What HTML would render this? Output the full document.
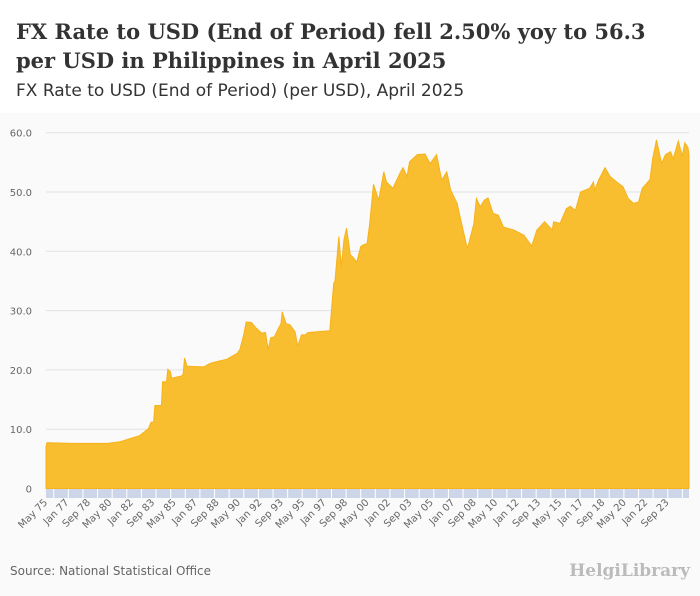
<!DOCTYPE html>
<html><head><meta charset="utf-8"><style>
body{margin:0;width:700px;height:596px;background:#fafafa;font-family:"Liberation Sans",sans-serif;overflow:hidden}
#hdr{position:absolute;left:0;top:0;width:700px;height:113px;background:#fff}
#t{position:absolute;left:16px;top:17px;font:bold 21px/29px "DejaVu Serif",serif;color:#333;white-space:nowrap}
#st{position:absolute;left:16px;top:81px;font:17px "DejaVu Sans",sans-serif;color:#333}
#src{position:absolute;left:10px;top:564px;font:12px "DejaVu Sans",sans-serif;color:#666}
#logo{position:absolute;right:10px;top:561px;font:bold 17px "DejaVu Serif",serif;color:#bbb}
</style></head><body>
<div id="hdr">
<div id="t">FX Rate to USD (End of Period) fell 2.50% yoy to 56.3<br>per USD in Philippines in April 2025</div>
<div id="st">FX Rate to USD (End of Period) (per USD), April 2025</div>
</div>
<svg id="c" width="700" height="596" style="position:absolute;left:0;top:0"></svg>
<div id="src">Source: National Statistical Office</div>
<div id="logo">HelgiLibrary</div>
<script>
const dates=[1975.33,1975.4,1975.5,1977.4,1980.1,1981.1,1982.6,1983.3,1983.5,1983.7,1983.8,1984.3,1984.4,1984.7,1984.8,1985.0,1985.1,1985.9,1986.0,1986.1,1986.3,1987.6,1988.1,1988.6,1989.4,1990.2,1990.4,1990.7,1990.9,1991.3,1991.7,1992.1,1992.4,1992.6,1992.8,1993.1,1993.4,1993.6,1993.7,1994.0,1994.3,1994.7,1994.9,1995.2,1995.5,1995.7,1997.4,1997.7,1997.8,1998.1,1998.3,1998.5,1998.7,1999.0,1999.2,1999.5,1999.8,2000.0,2000.3,2000.5,2000.8,2001.2,2001.6,2001.8,2002.3,2002.9,2003.1,2003.4,2003.6,2004.2,2004.8,2005.2,2005.7,2006.1,2006.5,2006.8,2007.3,2007.5,2008.1,2008.6,2008.8,2009.1,2009.4,2009.7,2010.1,2010.5,2010.9,2011.7,2012.5,2013.1,2013.5,2014.1,2014.7,2014.8,2015.3,2015.8,2016.1,2016.5,2016.9,2017.6,2017.9,2018.0,2018.3,2018.8,2019.2,2019.7,2020.2,2020.6,2021.0,2021.4,2021.7,2022.3,2022.5,2022.8,2023.2,2023.5,2023.9,2024.1,2024.5,2024.8,2025.0,2025.25,2025.33];
const values=[7.05,7.7,7.7,7.6,7.6,7.9,8.9,10.1,11.2,11.2,14.0,14.0,18.0,18.0,20.1,19.7,18.6,19.0,19.3,22.0,20.6,20.5,21.1,21.4,21.8,22.8,23.4,25.9,28.1,28.0,27.0,26.2,26.3,23.4,25.4,25.6,27.0,27.8,29.8,27.8,27.6,26.4,24.0,25.9,25.9,26.3,26.6,34.6,35.0,42.5,37.4,42.0,43.9,39.4,39.0,38.2,40.8,41.1,41.3,44.7,51.3,48.6,53.4,51.7,50.6,53.4,54.1,52.6,55.1,56.3,56.4,54.8,56.3,52.0,53.4,50.3,48.1,46.1,40.4,44.7,48.9,47.5,48.6,49.0,46.4,46.1,44.1,43.6,42.7,40.9,43.6,45.0,43.6,45.0,44.7,47.2,47.6,46.9,50.0,50.6,51.7,50.3,52.0,54.1,52.6,51.7,50.9,48.9,48.1,48.3,50.6,52.1,55.6,58.8,54.8,56.3,56.8,55.6,58.6,56.1,58.3,57.5,56.3];
const yTicks=[0,10,20,30,40,50,60];
const yTickLabels=["0","10.0","20.0","30.0","40.0","50.0","60.0"];
const xLabels=["May 75","Jan 77","Sep 78","May 80","Jan 82","Sep 83","May 85","Jan 87","Sep 88","May 90","Jan 92","Sep 93","May 95","Jan 97","Sep 98","May 00","Jan 02","Sep 03","May 05","Jan 07","Sep 08","May 10","Jan 12","Sep 13","May 15","Jan 17","Sep 18","May 20","Jan 22","Sep 23"];
const NS='http://www.w3.org/2000/svg',svg=document.getElementById('c');
const X0=46,X1=689,T0=1975.33,T1=2025.33,Y0=488.5;
const xs=t=>X0+(t-T0)/(T1-T0)*(X1-X0);
const ys=v=>Y0-v*5.93;
function mk(tag,a){const e=document.createElementNS(NS,tag);for(const k in a)e.setAttribute(k,a[k]);svg.appendChild(e);return e;}
yTicks.forEach((v,i)=>{
 if(v>0){const g=mk('line',{x1:X0,x2:X1,y1:ys(v),y2:ys(v),stroke:'#e2e2e2','stroke-width':1});
 
 }
 const t=mk('text',{x:32,y:ys(v)+4,'text-anchor':'end','font-size':10,fill:'#666','font-family':'DejaVu Sans, sans-serif'});
 t.textContent=yTickLabels[i];
 
 
});
let d='M'+xs(dates[0])+','+Y0;
dates.forEach((t,i)=>{d+=' L'+xs(t).toFixed(1)+','+ys(values[i]).toFixed(1);});
d+=' L'+xs(dates[dates.length-1])+','+Y0+' Z';
const area=mk('path',{d:d,fill:'#f9bd30',stroke:'#f6b31a','stroke-width':1});


const band=mk('rect',{x:X0,y:489,width:X1-X0,height:9,fill:'#cdd6e9'});


for(let x=X0+7.7;x<X1;x+=14.62){const s=mk('line',{x1:x,x2:x,y1:489,y2:498,stroke:'#fff','stroke-width':1});
 
 }
xLabels.forEach((l,i)=>{
 const x=xs(T0+i*20/12)+2;
 const t=mk('text',{x:x,y:503,'text-anchor':'end','font-size':10,fill:'#666','font-family':'DejaVu Sans, sans-serif',transform:'rotate(-45 '+x+' 503)'});
 t.textContent=l;
 
 
});
</script>
</body></html>
